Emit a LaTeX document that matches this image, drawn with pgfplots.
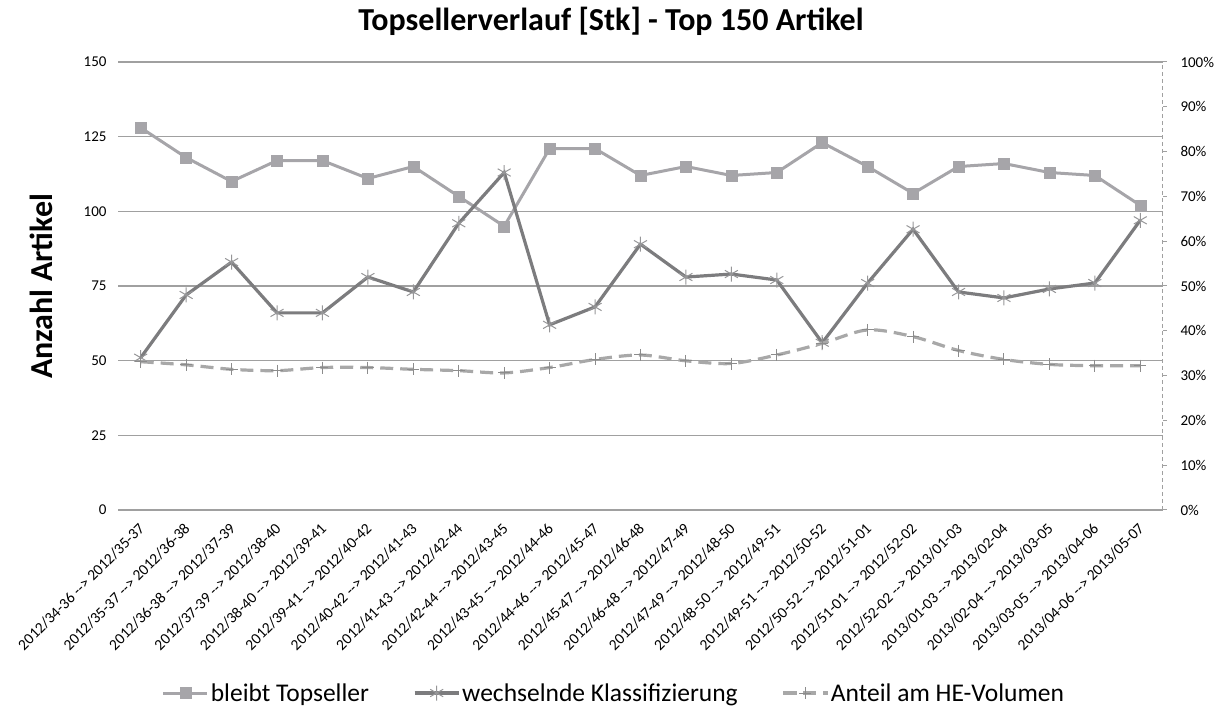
\documentclass[border=0pt]{standalone}
\usepackage{fontspec}
\setmainfont{Carlito}
\usepackage{pgfplots}
\pgfplotsset{compat=1.18}
\definecolor{sqcol}{RGB}{166,165,169}
\definecolor{stcol}{RGB}{124,124,126}
\definecolor{stmark}{RGB}{150,150,152}
\definecolor{dacol}{RGB}{168,168,168}
\definecolor{pluscol}{RGB}{140,140,140}
\definecolor{gridcol}{RGB}{160,160,160}
\begin{document}
\begin{tikzpicture}
\useasboundingbox (0,0) rectangle (1223bp,706bp);
\node[anchor=base,font=\fontsize{32bp}{38bp}\selectfont\bfseries] at (611bp,675bp) {Topsellerverlauf [Stk] - Top 150 Artikel};
\node[rotate=90,font=\fontsize{32bp}{38bp}\selectfont\bfseries] at (41bp,419.5bp) {Anzahl Artikel};
\pgfplotsset{
  common/.style={
    at={(118bp,196bp)}, anchor=south west,
    scale only axis, width=1045bp, height=448bp,
    xmin=-0.5, xmax=22.5, clip=false,
  },
  sqstyle/.style={color=sqcol, line width=3bp, mark=square*, mark size=5.5bp, mark options={solid, fill=sqcol, draw=sqcol, line width=0.5bp}},
  ststyle/.style={color=stcol, line width=3.2bp, mark=asterisk, mark size=7.5bp, mark options={solid, draw=stmark, line width=1bp}},
  dastyle/.style={color=dacol, line width=3.2bp, dash pattern=on 13bp off 7bp, smooth, tension=0.5, mark=+, mark size=6bp, mark options={solid, draw=pluscol, line width=1bp}},
}
\begin{axis}[common,
  ymin=0, ymax=150,
  axis line style={draw=none},
  ytick={0,25,50,75,100,125,150},
  yticklabels={0,25,50,75,100,125,150},
  ymajorgrids, grid style={gridcol, line width=1.3bp},
  ytick style={draw=none}, xtick style={draw=none},
  yticklabel style={font=\fontsize{15bp}{18bp}\selectfont, xshift=-8bp},
  xtick={0,...,22},
  xticklabels={
    {2012/34-36 -{}-> 2012/35-37},
    {2012/35-37 -{}-> 2012/36-38},
    {2012/36-38 -{}-> 2012/37-39},
    {2012/37-39 -{}-> 2012/38-40},
    {2012/38-40 -{}-> 2012/39-41},
    {2012/39-41 -{}-> 2012/40-42},
    {2012/40-42 -{}-> 2012/41-43},
    {2012/41-43 -{}-> 2012/42-44},
    {2012/42-44 -{}-> 2012/43-45},
    {2012/43-45 -{}-> 2012/44-46},
    {2012/44-46 -{}-> 2012/45-47},
    {2012/45-47 -{}-> 2012/46-48},
    {2012/46-48 -{}-> 2012/47-49},
    {2012/47-49 -{}-> 2012/48-50},
    {2012/48-50 -{}-> 2012/49-51},
    {2012/49-51 -{}-> 2012/50-52},
    {2012/50-52 -{}-> 2012/51-01},
    {2012/51-01 -{}-> 2012/52-02},
    {2012/52-02 -{}-> 2013/01-03},
    {2013/01-03 -{}-> 2013/02-04},
    {2013/02-04 -{}-> 2013/03-05},
    {2013/03-05 -{}-> 2013/04-06},
    {2013/04-06 -{}-> 2013/05-07}},
  xticklabel style={font=\fontsize{15.5bp}{18bp}\selectfont, xshift=-3bp, yshift=-12bp, rotate=45, anchor=north east, inner sep=0pt},
]
\addplot[sqstyle] coordinates {
(0,128) (1,118) (2,110) (3,117) (4,117) (5,111) (6,115) (7,105) (8,95) (9,121) (10,121) (11,112)
(12,115) (13,112) (14,113) (15,123) (16,115) (17,106) (18,115) (19,116) (20,113) (21,112) (22,102)};
\addplot[ststyle] coordinates {
(0,51) (1,72) (2,83) (3,66) (4,66) (5,78) (6,73) (7,96) (8,113) (9,62) (10,68) (11,89)
(12,78) (13,79) (14,77) (15,56) (16,76) (17,94) (18,73) (19,71) (20,74) (21,76) (22,97)};
\end{axis}
\begin{axis}[common,
  ymin=0, ymax=100,
  axis x line=none,
  axis y line*=right,
  y axis line style={-, gridcol, line width=1bp, dash pattern=on 4bp off 3bp},
  ytick={0,10,...,100},
  yticklabels={0\%,10\%,20\%,30\%,40\%,50\%,60\%,70\%,80\%,90\%,100\%},
  ytick style={gridcol, line width=1bp},
  tick align=outside, major tick length=4bp,
  yticklabel style={font=\fontsize{15bp}{18bp}\selectfont, xshift=10bp},
  legend columns=3,
  legend style={at={(0.4746,-0.4085)}, anchor=center, draw=none, fill=none,
    font=\fontsize{25.5bp}{30bp}\selectfont, inner sep=0pt,
    /tikz/every even column/.append style={column sep=42bp}},
  legend image code/.code={\draw[mark repeat=2,mark phase=2,#1] plot coordinates {(0bp,0bp) (22bp,0bp) (44bp,0bp)};},
]
\addlegendimage{sqstyle}
\addlegendentry{bleibt Topseller}
\addlegendimage{ststyle}
\addlegendentry{wechselnde Klassifizierung}
\addplot[dastyle] coordinates {
(0,33.1) (1,32.4) (2,31.4) (3,31.1) (4,31.8) (5,31.8) (6,31.4) (7,31.1) (8,30.6) (9,31.8) (10,33.6) (11,34.6)
(12,33.3) (13,32.7) (14,34.6) (15,37.2) (16,40.2) (17,38.7) (18,35.6) (19,33.6) (20,32.5) (21,32.2) (22,32.2)};
\addlegendentry{Anteil am HE-Volumen}
\end{axis}
\end{tikzpicture}
\end{document}
